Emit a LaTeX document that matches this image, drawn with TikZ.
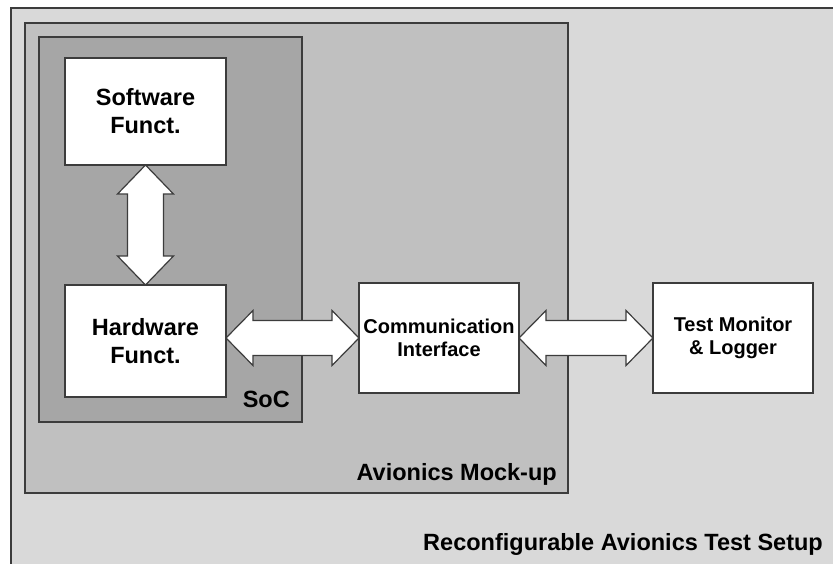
\documentclass[tikz,border=0pt]{standalone}
\usepackage{fontspec}
\setmainfont{Liberation Sans}
\usetikzlibrary{calc}
\definecolor{outerfill}{RGB}{217,217,217}
\definecolor{mockfill}{RGB}{192,192,192}
\definecolor{socfill}{RGB}{166,166,166}
\definecolor{edge}{RGB}{60,60,60}
\tikzset{
  container/.style={draw=edge, line width=1.5pt, inner sep=0pt, outer sep=0pt},
  block/.style={draw=edge, line width=1.3pt, fill=white, inner sep=0pt, outer sep=0pt, align=center, font=\bfseries},
  bigtext/.style={font=\fontsize{23.5}{28}\selectfont\bfseries},
  smalltext/.style={font=\fontsize{20}{23}\selectfont\bfseries},
  fat/.style={draw=edge, line width=1.2pt, fill=white, line join=miter},
  tag/.style={inner sep=0pt, anchor=base east, font=\fontsize{23.5}{28}\selectfont\bfseries}
}
\newcommand{\hfat}[2]{%
  \draw[fat] (#1) -- ++(27,-27.5) -- ++(0,10) -- ($(#2)+(-27,-17.5)$) -- ++(0,-10) -- (#2)
    -- ++(-27,27.5) -- ++(0,-10) -- ($(#1)+(27,17.5)$) -- ++(0,10) -- cycle;}
\newcommand{\vfat}[2]{%
  \draw[fat] (#1) -- ++(28,29) -- ++(-10,0) -- ($(#2)+(18,-29)$) -- ++(10,0) -- (#2)
    -- ++(-28,-29) -- ++(10,0) -- ($(#1)+(-18,29)$) -- ++(-10,0) -- cycle;}
\begin{document}
\begin{tikzpicture}[x=1pt,y=-1pt]
\clip (0,0) rectangle (833,563);
\fill[white] (0,0) rectangle (833,563);
% outer container
\draw[container, fill=outerfill] (11,8) rectangle (860,590);
\node[tag] (setup) at (823,550) {Reconfigurable Avionics Test Setup};
% avionics mock-up
\node[container, fill=mockfill, minimum width=543pt, minimum height=470pt] (mock) at (296.5,258) {};
\node[tag] (mocklbl) at (557,480) {Avionics Mock-up};
% SoC
\node[container, fill=socfill, minimum width=263pt, minimum height=385pt] (soc) at (170.5,229.5) {};
\node[tag] (soclbl) at (290,407) {SoC};
% blocks
\node[block, bigtext, minimum width=161pt, minimum height=107pt] (sw) at (145.5,111.5) {Software\\Funct.};
\node[block, bigtext, minimum width=161pt, minimum height=112pt] (hw) at (145.5,341) {Hardware\\Funct.};
\node[block, smalltext, minimum width=160pt, minimum height=110pt] (comm) at (439,338) {Communication\\Interface};
\node[block, smalltext, minimum width=160pt, minimum height=110pt] (tm) at (733,338) {Test Monitor\\\& Logger};
% arrows
\coordinate (a1l) at (hw.east |- comm.west);
\coordinate (a2r) at (tm.west);
\vfat{sw.south}{hw.north}
\hfat{a1l}{comm.west}
\hfat{comm.east}{a2r}
\end{tikzpicture}
\end{document}
